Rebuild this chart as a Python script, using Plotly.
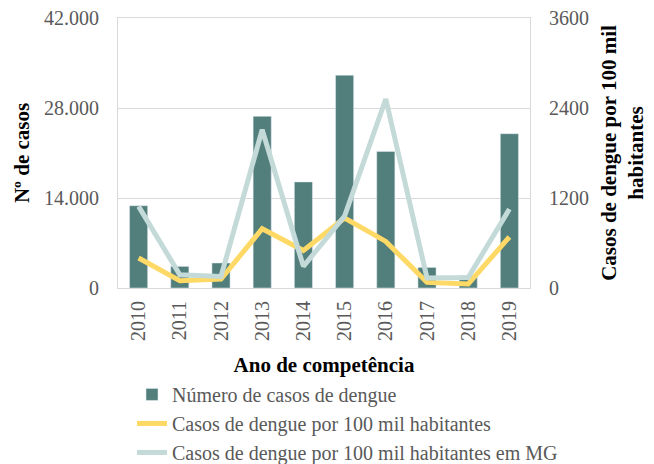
import plotly.graph_objects as go

anos = ["2010", "2011", "2012", "2013", "2014", "2015", "2016", "2017", "2018", "2019"]
casos = [12800, 3360, 3890, 26700, 16500, 33100, 21250, 3200, 1900, 24000]
taxa = [400, 97, 120, 790, 500, 933, 621, 75, 53, 680]
taxa_mg = [1088, 177, 155, 2110, 288, 960, 2520, 133, 140, 1053]

FONT = "Liberation Serif"
GRAY = "#595959"

fig = go.Figure()
fig.add_trace(go.Bar(x=anos, y=casos, name="Número de casos de dengue",
                     marker_color="#527E7C", yaxis="y"))
fig.add_trace(go.Scatter(x=anos, y=taxa, name="Casos de dengue por 100 mil habitantes",
                         mode="lines", line=dict(color="#FFD966", width=5), yaxis="y2"))
fig.add_trace(go.Scatter(x=anos, y=taxa_mg, name="Casos de dengue por 100 mil habitantes em MG",
                         mode="lines", line=dict(color="#C3DAD8", width=5), yaxis="y2"))

fig.update_layout(
    width=646, height=456,
    margin=dict(l=110, r=124, t=10, b=176, autoexpand=False),
    paper_bgcolor="white", plot_bgcolor="white",
    font=dict(family=FONT, size=20, color=GRAY),
    bargap=0.56,
    showlegend=True,
    legend=dict(orientation="v", x=0.034, xanchor="left", y=-0.322, yanchor="top",
                font=dict(family=FONT, size=20, color=GRAY), tracegroupgap=0,
                itemwidth=30),
    xaxis=dict(tickangle=-90, showgrid=False, showline=True, linecolor="#d9d9d9", mirror=True,
               tickfont=dict(size=20, color=GRAY), ticklabelstandoff=4,
               title=dict(text="<b>Ano de competência</b>", font=dict(size=21, color="black"), standoff=17)),
    yaxis=dict(range=[0, 42000], tickvals=[0, 14000, 28000, 42000],
               ticktext=["0", "14.000", "28.000", "42.000"],
               showgrid=True, gridcolor="#d9d9d9", showline=True, linecolor="#d9d9d9",
               zeroline=False, ticks="", ticklabelstandoff=14, ticklabeloverflow="allow",
               tickfont=dict(size=20, color=GRAY),
               title=dict(text="<b>Nº de casos</b>", font=dict(size=21, color="black"), standoff=8)),
    yaxis2=dict(range=[0, 3600], tickvals=[0, 1200, 2400, 3600],
                overlaying="y", side="right", showgrid=False, showline=True,
                linecolor="#d9d9d9", zeroline=False, ticklabelstandoff=14, ticklabeloverflow="allow",
                tickfont=dict(size=20, color=GRAY),
                title=dict(text="<b>Casos de dengue por 100 mil<br>habitantes</b>",
                           font=dict(size=21, color="black"), standoff=13)),
)

fig.write_html("out.html")
